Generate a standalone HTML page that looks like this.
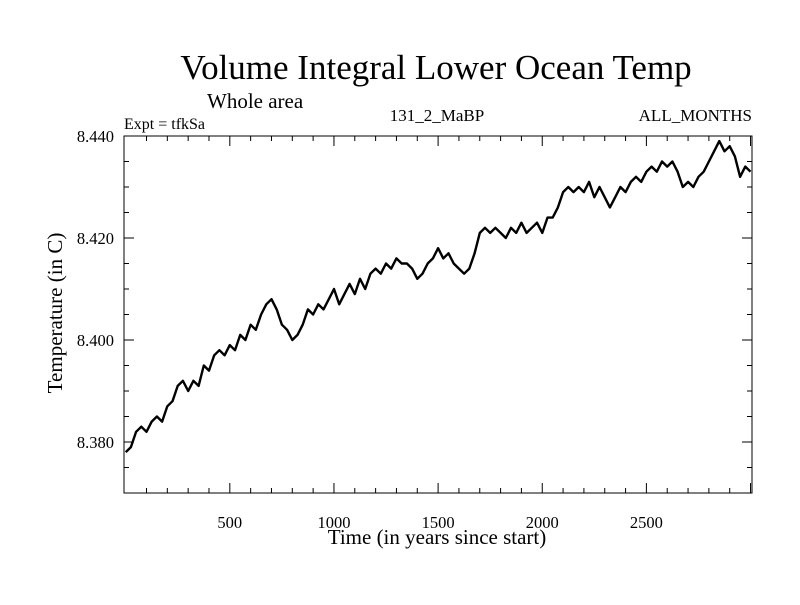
<!DOCTYPE html>
<html><head><meta charset="utf-8"><style>
body{margin:0;background:#fff}
svg text{font-family:"Liberation Serif",serif;fill:#000}
</style></head><body>
<svg width="800" height="600" id="c">
<rect width="800" height="600" fill="#fff"/>
<text x="436" y="79" font-size="35" text-anchor="middle">Volume Integral Lower Ocean Temp</text>
<text x="207" y="108" font-size="21">Whole area</text>
<text x="124" y="129" font-size="16">Expt = tfkSa</text>
<text x="437" y="121" font-size="17" text-anchor="middle">131_2_MaBP</text>
<text x="752" y="121" font-size="17" text-anchor="end">ALL_MONTHS</text>
<text x="437" y="544" font-size="21" text-anchor="middle">Time (in years since start)</text>
<text transform="translate(62,313) rotate(-90)" font-size="21" text-anchor="middle">Temperature (in C)</text>
<g id="axes"></g>
<path id="line" fill="none" stroke="#000" stroke-width="2.4" stroke-linejoin="round"/>
<rect x="124" y="136" width="628" height="357" fill="none" stroke="#000" stroke-width="1"/>
</svg>
<script>
const years=[];for(let i=0;i<=120;i++)years.push(i*25);
const temps=[8.378,8.379,8.382,8.383,8.382,8.384,8.385,8.384,8.387,8.388,8.391,8.392,8.390,8.392,8.391,8.395,8.394,8.397,8.398,8.397,8.399,8.398,8.401,8.400,8.403,8.402,8.405,8.407,8.408,8.406,8.403,8.402,8.400,8.401,8.403,8.406,8.405,8.407,8.406,8.408,8.410,8.407,8.409,8.411,8.409,8.412,8.410,8.413,8.414,8.413,8.415,8.414,8.416,8.415,8.415,8.414,8.412,8.413,8.415,8.416,8.418,8.416,8.417,8.415,8.414,8.413,8.414,8.417,8.421,8.422,8.421,8.422,8.421,8.420,8.422,8.421,8.423,8.421,8.422,8.423,8.421,8.424,8.424,8.426,8.429,8.430,8.429,8.430,8.429,8.431,8.428,8.430,8.428,8.426,8.428,8.430,8.429,8.431,8.432,8.431,8.433,8.434,8.433,8.435,8.434,8.435,8.433,8.430,8.431,8.430,8.432,8.433,8.435,8.437,8.439,8.437,8.438,8.436,8.432,8.434,8.433];
const xTicks=[500,1000,1500,2000,2500];
const yTicks=[8.380,8.400,8.420,8.440];
const X0=124,X1=752,Y0=493,Y1=136,xmin=-8,xmax=3007,ymin=8.370,ymax=8.440;
const sx=v=>X0+(v-xmin)/(xmax-xmin)*(X1-X0);
const sy=v=>Y0-(v-ymin)/(ymax-ymin)*(Y0-Y1);
const ns="http://www.w3.org/2000/svg",g=document.getElementById('axes');
function ln(x1,y1,x2,y2,name){const l=document.createElementNS(ns,'line');
l.setAttribute('x1',x1);l.setAttribute('y1',y1);l.setAttribute('x2',x2);l.setAttribute('y2',y2);l.setAttribute('stroke','#000');


g.appendChild(l);}
function tx(x,y,s,anchor,name){const t=document.createElementNS(ns,'text');t.setAttribute('x',x);t.setAttribute('y',y);t.setAttribute('font-size','16.5');t.setAttribute('text-anchor',anchor);t.textContent=s;


g.appendChild(t);}
for(let v=100;v<3007;v+=100){const x=sx(v);const big=v%500===0;const L=big?10:5;
ln(x,Y0,x,Y0-L,'x-tick');ln(x,Y1,x,Y1+L,'x-tick');}
xTicks.forEach(v=>tx(sx(v),Y0+35,String(v),'middle','x-tick-label'));
for(let k=0;k<=14;k++){const v=ymin+k*0.005;const y=sy(v);const big=Math.abs(((v-8.38)/0.02)-Math.round((v-8.38)/0.02))<1e-6;const L=big?10:5;
ln(X0,y,X0+L,y,'y-tick');ln(X1,y,X1-L,y,'y-tick');}
yTicks.forEach(v=>tx(X0-10,sy(v)+6,v.toFixed(3),'end','y-tick-label'));
document.getElementById('line').setAttribute('d',years.map((y,i)=>(i?'L':'M')+sx(y).toFixed(1)+' '+sy(temps[i]).toFixed(1)).join(''));
</script>
</body></html>
